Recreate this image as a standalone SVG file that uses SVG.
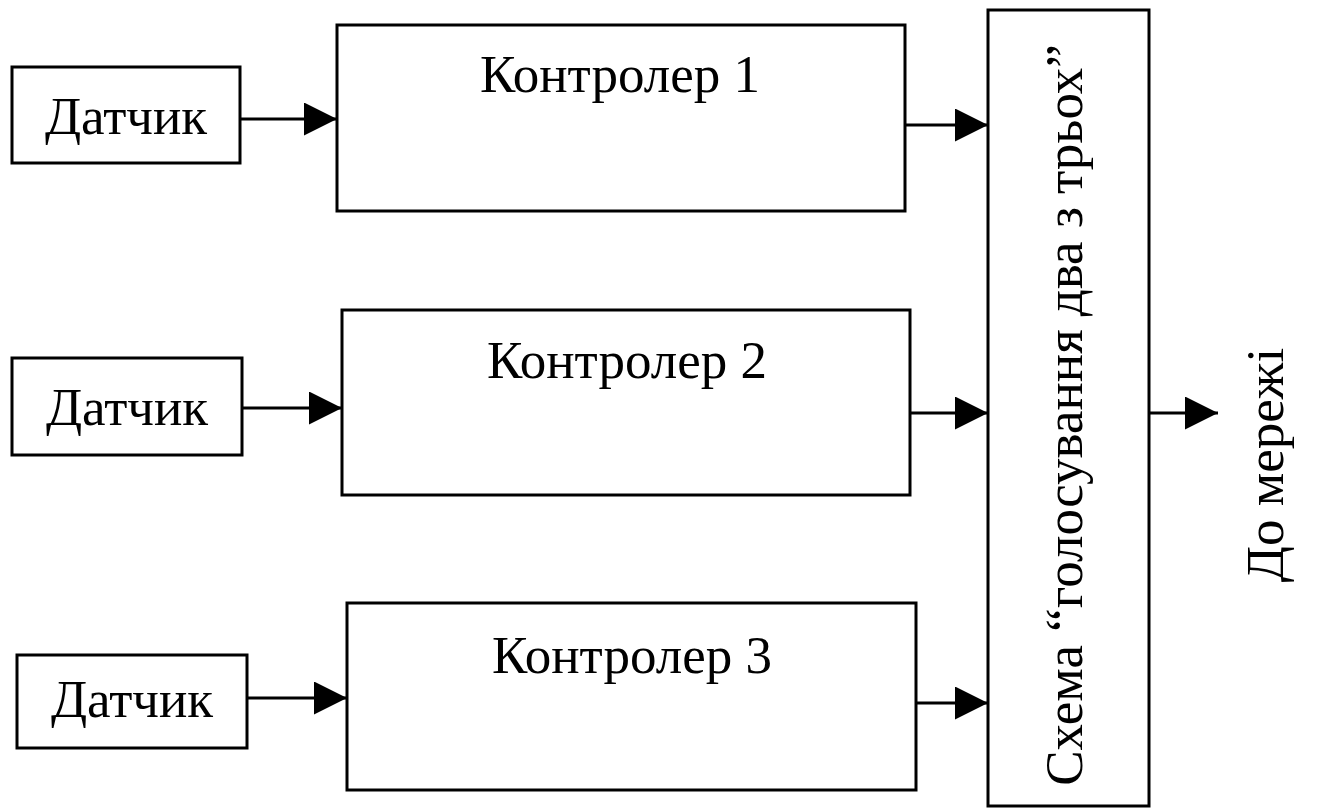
<svg xmlns="http://www.w3.org/2000/svg" width="1325" height="809" viewBox="0 0 1325 809">
<defs>
<style>
.box{fill:#fff;stroke:#000;stroke-width:3}
.t{font-family:"Liberation Serif","Times New Roman",serif;font-size:53px;fill:#000;text-anchor:middle}
.c{stroke:#000;stroke-width:3;fill:none;marker-end:url(#ah)}
</style>
<marker id="ah" markerWidth="11" markerHeight="11" refX="11" refY="5.5" orient="auto" markerUnits="strokeWidth"><path d="M0,0 L11,5.5 L0,11 Z" fill="#000"/></marker>
</defs>
<rect width="1325" height="809" fill="#fff"/>
<g id="sensor1"><rect class="box" x="12" y="67" width="228" height="96"/><text class="t" x="126" y="134">Датчик</text></g>
<g id="sensor2"><rect class="box" x="12" y="358" width="230" height="97"/><text class="t" x="127" y="425">Датчик</text></g>
<g id="sensor3"><rect class="box" x="17" y="655" width="230" height="93"/><text class="t" x="132" y="717">Датчик</text></g>
<g id="ctrl1"><rect class="box" x="337" y="25" width="568" height="186"/><text class="t" x="620" y="92">Контролер 1</text></g>
<g id="ctrl2"><rect class="box" x="342" y="310" width="568" height="185"/><text class="t" x="627" y="378">Контролер 2</text></g>
<g id="ctrl3"><rect class="box" x="347" y="603" width="569" height="187"/><text class="t" x="632" y="673">Контролер 3</text></g>
<g id="voter"><rect class="box" x="988" y="10" width="161" height="796"/><text class="t" transform="translate(1082,415) rotate(-90)">Схема “голосування два з трьох”</text></g>
<g id="network"><text class="t" transform="translate(1283,465) rotate(-90)">До мережі</text></g>
<g id="connectors">
<line class="c" x1="240" y1="119" x2="337" y2="119"/>
<line class="c" x1="242" y1="408" x2="342" y2="408"/>
<line class="c" x1="247" y1="698" x2="347" y2="698"/>
<line class="c" x1="905" y1="125" x2="988" y2="125"/>
<line class="c" x1="910" y1="413" x2="988" y2="413"/>
<line class="c" x1="916" y1="703" x2="988" y2="703"/>
<line class="c" x1="1149" y1="413" x2="1218" y2="413"/>
</g>
</svg>
